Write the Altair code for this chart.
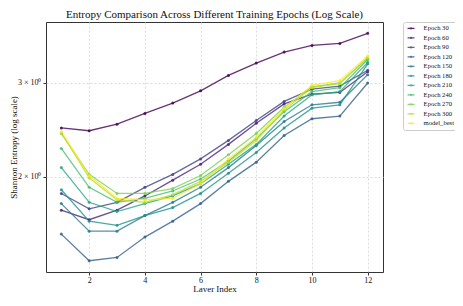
import altair as alt
import pandas as pd

layers = list(range(1, 13))
series_names = ["Epoch 30", "Epoch 60", "Epoch 90", "Epoch 120", "Epoch 150",
                "Epoch 180", "Epoch 210", "Epoch 240", "Epoch 270", "Epoch 300",
                "model_best"]

epoch_30 = [2.47, 2.44, 2.51, 2.63, 2.75, 2.90, 3.10, 3.27, 3.43, 3.53, 3.56, 3.72]
epoch_60 = [1.73, 1.66, 1.73, 1.84, 1.97, 2.11, 2.30, 2.52, 2.74, 2.86, 2.88, 3.15]
epoch_90 = [1.86, 1.74, 1.79, 1.91, 2.02, 2.16, 2.34, 2.55, 2.77, 2.92, 2.96, 3.17]
epoch_120 = [1.56, 1.39, 1.41, 1.54, 1.65, 1.78, 1.96, 2.13, 2.39, 2.57, 2.60, 3.00]
epoch_150 = [1.78, 1.58, 1.58, 1.69, 1.79, 1.91, 2.08, 2.29, 2.54, 2.73, 2.76, 3.11]
epoch_180 = [1.89, 1.65, 1.62, 1.69, 1.75, 1.86, 2.03, 2.22, 2.47, 2.69, 2.73, 3.26]
epoch_210 = [2.08, 1.79, 1.72, 1.78, 1.84, 1.94, 2.11, 2.30, 2.60, 2.85, 2.89, 3.28]
epoch_240 = [2.26, 1.91, 1.79, 1.82, 1.88, 1.98, 2.14, 2.36, 2.65, 2.89, 2.94, 3.32]
epoch_270 = [2.41, 2.02, 1.86, 1.86, 1.90, 2.01, 2.20, 2.41, 2.70, 2.95, 3.00, 3.34]
epoch_300 = [2.42, 1.99, 1.81, 1.79, 1.85, 1.96, 2.13, 2.34, 2.67, 2.94, 2.99, 3.35]
model_best = [2.43, 2.01, 1.82, 1.81, 1.82, 1.94, 2.16, 2.37, 2.69, 2.97, 3.03, 3.37]

series_values = [epoch_30, epoch_60, epoch_90, epoch_120, epoch_150, epoch_180,
                 epoch_210, epoch_240, epoch_270, epoch_300, model_best]

colors = ["#440154", "#482475", "#414487", "#355f8d", "#2a788e", "#21918c",
          "#22a884", "#44bf70", "#7ad151", "#bddf26", "#fde725"]

x_ticks = [2, 4, 6, 8, 10, 12]
y_ticks = [2, 3]

rows = []
for si, (name, vals) in enumerate(zip(series_names, series_values)):
    for l, v in zip(layers, vals):
        rows.append({"layer": l, "entropy": v, "series": name, "idx": si})
df = pd.DataFrame(rows)

FONT = "Liberation Serif"
W, H = 337, 250

xenc = alt.X("layer:Q",
             scale=alt.Scale(domain=[0.45, 12.55], nice=False, zero=False),
             axis=alt.Axis(values=x_ticks, title="Layer Index", format="d",
                           grid=True, gridDash=[2, 2], gridColor="#dcdcdc",
                           domain=False, tickSize=3, tickColor="#333",
                           labelFont=FONT, titleFont=FONT,
                           labelFontSize=8, labelPadding=1, labelColor="#111",
                           titleFontSize=9, titleFontWeight="normal",
                           titleColor="#111", titlePadding=0))
yenc = alt.Y("entropy:Q",
             scale=alt.Scale(type="log", domain=[1.324, 3.906], nice=False),
             axis=alt.Axis(values=y_ticks, title="Shannon Entropy (log scale)",
                           labelExpr="datum.value == 3 ? '3 × 10⁰' : '2 × 10⁰'",
                           grid=True, gridDash=[2, 2], gridColor="#dcdcdc",
                           domain=False, tickSize=3, tickColor="#333",
                           labelFont=FONT, titleFont=FONT,
                           labelFontSize=8, labelPadding=2, labelColor="#111",
                           titleFontSize=9, titleFontWeight="normal",
                           titleColor="#111", titleX=-33, titleY=H / 2,
                           titleAngle=270, titleAlign="center",
                           titleBaseline="middle"))

legend = alt.Legend(title=None, orient="none", legendX=357, legendY=0,
                    symbolType="M-1,0H3M0.7,0A0.3,0.3,0,1,1,1.3,0A0.3,0.3,0,1,1,0.7,0",
                    symbolSize=12, symbolStrokeWidth=1.3, symbolOpacity=0.85,
                    labelFontSize=6.6, labelFont=FONT, labelColor="#111",
                    rowPadding=2.5, padding=3, strokeColor="#cccccc",
                    fillColor="white", cornerRadius=2, labelOffset=11)

stroke_enc = alt.Stroke("series:N", sort=series_names,
                        scale=alt.Scale(domain=series_names, range=colors),
                        legend=legend)
fill_enc = alt.Fill("series:N", sort=series_names,
                    scale=alt.Scale(domain=series_names, range=colors),
                    legend=legend)

base = alt.Chart(df)
lines = base.mark_line(strokeWidth=1.3, opacity=0.8).encode(
    x=xenc, y=yenc, stroke=stroke_enc, order=alt.Order("layer:Q"))
points = base.mark_point(filled=True, size=9, opacity=0.85).encode(
    x=xenc, y=yenc, fill=fill_enc)

chart = alt.layer(lines, points).properties(
    width=W, height=H,
    title=alt.TitleParams("Entropy Comparison Across Different Training Epochs (Log Scale)",
                          fontSize=11, font=FONT, fontWeight="normal",
                          color="#111", anchor="middle", offset=2),
    autosize=alt.AutoSizeParams(type="none"),
    padding={"left": 38, "top": 14, "right": 72, "bottom": 20},
).configure(font=FONT, background="white").configure_view(
    stroke="#333", strokeWidth=1)

chart.save("out.html", embed_options={"renderer": "svg", "actions": False})
